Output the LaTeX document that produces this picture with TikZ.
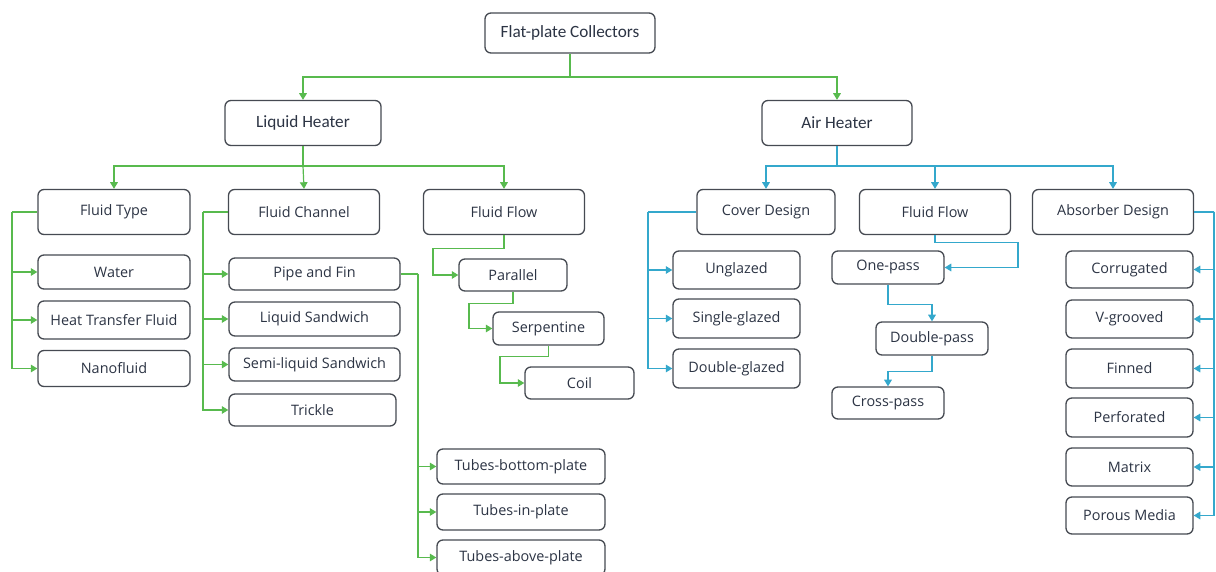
\documentclass[tikz,border=0pt]{standalone}
\usepackage{fontspec}
\setmainfont{Open Sans}
\newfontfamily\calfont{Carlito}
\usetikzlibrary{arrows.meta}
\definecolor{lgreen}{RGB}{88,186,78}
\definecolor{lblue}{RGB}{52,168,204}
\definecolor{boxline}{RGB}{70,74,82}
\definecolor{boxtext}{RGB}{44,52,68}
\tikzset{
  box/.style={draw=boxline, line width=0.65pt, rounded corners=3pt, fill=white,
    text=boxtext, inner sep=0pt, font=\fontsize{7.2}{9}\selectfont},
  head/.style={box, font=\calfont\fontsize{8.6}{10}\selectfont, minimum height=22.5pt},
  mid/.style={box, minimum height=22.5pt},
  kid/.style={box, minimum width=76pt, minimum height=18pt},
  chan/.style={box, minimum width=85.5pt, minimum height=16.5pt},
  tube/.style={box, minimum width=84pt, minimum height=17.5pt},
  stair/.style={box, minimum width=55pt, minimum height=16pt},
  cover/.style={box, minimum width=63.5pt, minimum height=19.5pt},
  pass/.style={box, minimum width=56pt, minimum height=16.5pt},
  absb/.style={box, minimum width=63.5pt, minimum height=19pt},
  garrow/.style={draw=lgreen, line width=0.6pt, -{Triangle[width=3.8pt,length=3.3pt]}},
  gline/.style={draw=lgreen, line width=0.6pt},
  barrow/.style={draw=lblue, line width=0.6pt, -{Triangle[width=3.8pt,length=3.3pt]}},
  bline/.style={draw=lblue, line width=0.6pt}
}
\begin{document}
\begin{tikzpicture}[x=0.5pt,y=-0.5pt]
\useasboundingbox[fill=white] (0,0) rectangle (1216,572);

% top levels
\node[head, minimum width=85pt, minimum height=20pt] (top) at (570,33) {Flat-plate Collectors};
\node[head, minimum width=78pt] (lh) at (303,123) {Liquid Heater};
\node[head, minimum width=75pt] (ah) at (837,123) {Air Heater};

\node[mid, minimum width=76pt] (ft) at (114,212) {Fluid Type};
\node[mid, minimum width=75.5pt] (fc) at (304,212) {Fluid Channel};
\node[mid, minimum width=80.5pt] (ffl) at (504,212) {Fluid Flow};
\node[mid, minimum width=69pt] (cd) at (766,212) {Cover Design};
\node[mid, minimum width=75.5pt] (ffa) at (935,212) {Fluid Flow};
\node[mid, minimum width=80.5pt] (ad) at (1113,212) {Absorber Design};

% liquid heater branches
\node[kid, minimum height=17pt] (water) at (114,272) {Water};
\node[kid, minimum height=19pt] (htf) at (114,320) {Heat Transfer Fluid};
\node[kid] (nano) at (114,368.5) {Nanofluid};

\node[chan, minimum height=16pt] (pf) at (314.5,274) {Pipe and Fin};
\node[chan, minimum height=17pt] (ls) at (314.5,319) {Liquid Sandwich};
\node[chan] (sls) at (314.5,364.5) {Semi-liquid Sandwich};
\node[chan, minimum width=83.5pt, minimum height=16pt] (tr) at (312.5,410) {Trickle};

\node[tube] (tbp) at (521,466.5) {Tubes-bottom-plate};
\node[tube, minimum height=18pt] (tip) at (521,512) {Tubes-in-plate};
\node[tube] (tap) at (521,557.5) {Tubes-above-plate};

\node[stair, minimum width=54pt] (par) at (513,275) {Parallel};
\node[stair, minimum width=55.5pt, minimum height=16.5pt] (ser) at (548.5,328.5) {Serpentine};
\node[stair, minimum width=54.5pt] (coil) at (579.5,383) {Coil};

% air heater branches
\node[cover, minimum height=19pt] (ung) at (736.5,270) {Unglazed};
\node[cover] (sg) at (736.5,318.5) {Single-glazed};
\node[cover] (dg) at (736.5,368.5) {Double-glazed};

\node[pass] (op) at (888,267.5) {One-pass};
\node[pass] (dp) at (932,338.5) {Double-pass};
\node[pass, minimum height=16pt] (cp) at (888,403) {Cross-pass};

\node[absb, minimum height=18.5pt] (cor) at (1129.5,269.5) {Corrugated};
\node[absb] (vg) at (1129.5,319) {V-grooved};
\node[absb, minimum height=19.5pt] (fin) at (1129.5,368.5) {Finned};
\node[absb, minimum height=19.5pt] (per) at (1129.5,417.5) {Perforated};
\node[absb] (mat) at (1129.5,467) {Matrix};
\node[absb, minimum height=18.5pt] (por) at (1129.5,515.5) {Porous Media};

% joints
\coordinate (j0) at (570,77);
\coordinate (j1) at (303,166);
\coordinate (j2) at (837,166);
\coordinate (jft) at (12,212);
\coordinate (jfc) at (203,212);
\coordinate (jpf) at (418,274);
\coordinate (jcd) at (648,212);
\coordinate (jad) at (1214,212);

% green connectors
\draw[gline] (top.south) -- (j0);
\draw[garrow] (j0) -| (lh.north);
\draw[garrow] (j0) -| (ah.north);
\draw[gline] (lh.south) -- (j1);
\draw[garrow] (j1) -| (ft.north);
\draw[garrow] (j1) -- (fc.north);
\draw[garrow] (j1) -| (ffl.north);

\draw[gline] (ft.west) -- (jft);
\foreach \n in {water,htf,nano}
  \draw[garrow] (jft) |- (\n.west);
\draw[gline] (fc.west) -- (jfc);
\foreach \n in {pf,ls,sls,tr}
  \draw[garrow] (jfc) |- (\n.west);
\draw[gline] (pf.east) -- (jpf);
\foreach \n in {tbp,tip,tap}
  \draw[garrow] (jpf) |- (\n.west);

\draw[garrow] (ffl.south) -- ++(0,13) -| (433,260) |- (par.west);
\draw[garrow] (par.south) -- ++(0,12) -| (469,315) |- (ser.west);
\draw[garrow] (ser.south) -- ++(0,11) -| (500,370) |- (coil.west);

% blue connectors
\draw[bline] (ah.south) -- (j2);
\draw[barrow] (j2) -| (cd.north);
\draw[barrow] (j2) -| (ffa.north);
\draw[barrow] (j2) -| (ad.north);

\draw[bline] (cd.west) -- (jcd);
\foreach \n in {ung,sg,dg}
  \draw[barrow] (jcd) |- (\n.west);

\draw[barrow] (ffa.south) -- ++(0,7) -| (1018,255) |- (op.east);
\draw[barrow] (op.south) -- ++(0,20) -| (dp.north);
\draw[barrow] (dp.south) -- ++(0,16) -| (cp.north);

\draw[bline] (ad.east) -- (jad);
\foreach \n in {cor,vg,fin,per,mat,por}
  \draw[barrow] (jad) |- (\n.east);
\end{tikzpicture}
\end{document}
